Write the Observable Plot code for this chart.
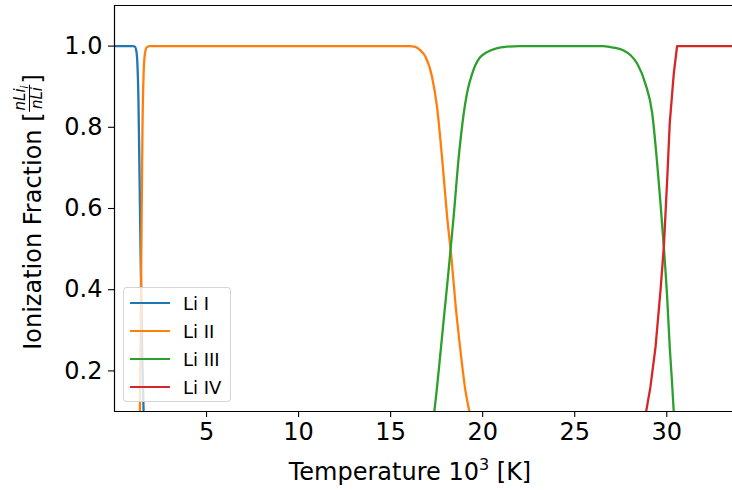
<!DOCTYPE html>
<html><head><meta charset="utf-8">
<script src="https://cdn.jsdelivr.net/npm/d3@7"></script>
<script src="https://cdn.jsdelivr.net/npm/@observablehq/plot@0.6"></script>
<style>
html,body{margin:0;padding:0;background:#fff;overflow:hidden}
#wrap{position:relative;width:732px;height:492px;font-family:"DejaVu Sans",sans-serif}
.legend{position:absolute;left:123px;top:287px;width:108px;height:115px;border:1px solid rgba(204,204,204,0.8);border-radius:4px;background:rgba(255,255,255,0.8);box-sizing:border-box}
.legend .row{position:absolute;left:6px;height:28px;display:flex;align-items:center;font-size:18px;color:#000;white-space:nowrap}
.legend .sw{width:40px;height:2.2px;margin-right:13px}
#ylab{position:absolute;left:33px;top:212px;transform:translate(-50%,-50%) rotate(-90deg);white-space:nowrap;font-size:24px;line-height:1;display:flex;align-items:center;color:#000}
#ylab .frac{display:inline-flex;flex-direction:column;align-items:center;font-size:15px;font-style:italic;line-height:1;margin:0 1px;position:relative;top:-4px}
#ylab .frac .num{border-bottom:1px solid #000;padding:0 1px 1px 1px}
#ylab .frac sub{font-size:10px;line-height:0;vertical-align:-3px}
</style></head>
<body><div id="wrap"></div>
<script>
// Series names and colours
const seriesNames = ["Li I", "Li II", "Li III", "Li IV"];
const seriesColors = ["#1f77b4", "#ff7f0e", "#2ca02c", "#d62728"];

// Temperature (10^3 K) and ionization fraction
const tempLiI = [0, 0.5, 1.0, 1.1, 1.18, 1.24, 1.30, 1.36, 1.42, 1.50, 1.58, 1.65, 2.0, 3.0];
const fracLiI = [1, 1, 1, 0.999, 0.99, 0.96, 0.87, 0.68, 0.48, 0.25, 0.10, 0.04, 0.0, 0.0];

const tempLiII = [0, 1.2, 1.3, 1.38, 1.45, 1.52, 1.58, 1.65, 1.75, 1.9, 16.0, 16.35, 16.6, 16.9, 17.25, 17.52, 17.79, 18.07, 18.30, 18.52, 18.79, 19.06, 19.28, 19.5, 20.0, 21.0, 34.0];
const fracLiII = [0, 0, 0.02, 0.10, 0.45, 0.80, 0.93, 0.98, 0.997, 1.0, 1.0, 0.998, 0.99, 0.973, 0.924, 0.85, 0.727, 0.579, 0.48, 0.366, 0.251, 0.152, 0.10, 0.06, 0.02, 0.0, 0.0];

const tempLiIII = [0, 16.5, 17.0, 17.37, 17.61, 17.88, 18.15, 18.42, 18.70, 18.97, 19.2, 19.4, 19.6, 19.87, 20.15, 20.42, 20.8, 21.14, 22.0, 26.5, 27.0, 27.66, 28.05, 28.39, 28.84, 29.21, 29.48, 29.66, 29.84, 30.02, 30.16, 30.29, 30.38, 30.5, 31.0, 34.0];
const fracLiIII = [0, 0, 0.03, 0.10, 0.20, 0.325, 0.448, 0.579, 0.727, 0.834, 0.895, 0.928, 0.953, 0.973, 0.983, 0.989, 0.995, 0.9975, 1.0, 1.0, 0.997, 0.989, 0.977, 0.957, 0.907, 0.834, 0.71, 0.612, 0.505, 0.382, 0.259, 0.169, 0.10, 0.05, 0.01, 0.0];

const tempLiIV = [0, 28.3, 28.6, 28.88, 29.11, 29.39, 29.66, 29.84, 30.02, 30.16, 30.38, 30.56, 34.0];
const fracLiIV = [0, 0, 0.04, 0.10, 0.16, 0.259, 0.399, 0.505, 0.669, 0.809, 0.932, 1.0, 1.0];

const xTicks = [5, 10, 15, 20, 25, 30];
const yTicks = [0.2, 0.4, 0.6, 0.8, 1.0];
const xDomain = [0, 33.57];
const yDomain = [0.1, 1.1];

const temps = [tempLiI, tempLiII, tempLiIII, tempLiIV];
const fracs = [fracLiI, fracLiII, fracLiIII, fracLiIV];
const curves = ["monotone-x", "monotone-x", "monotone-x", "linear"];
const tables = seriesNames.map((s, i) => temps[i].map((t, j) => ({series: s, T: t, f: fracs[i][j]})));

const chart = Plot.plot({
  width: 732, height: 492,
  marginLeft: 114, marginRight: 0, marginTop: 5, marginBottom: 81,
  style: {fontFamily: "DejaVu Sans", fontSize: "24px", color: "black", background: "white", overflow: "visible"},
  x: {domain: xDomain},
  y: {domain: yDomain},
  color: {domain: seriesNames, range: seriesColors},
  marks: [
    ...tables.map((d, i) => Plot.line(d, {x: "T", y: "f", stroke: "series", strokeWidth: 2.3, clip: true, curve: curves[i]})),
    Plot.ruleX([xDomain[0]], {stroke: "black", strokeWidth: 1.2}),
    Plot.ruleY(yDomain, {stroke: "black", strokeWidth: 1.2}),
    Plot.axisX({ticks: xTicks, tickSize: 6, tickPadding: 5, fontSize: 24, label: null, stroke: "black", strokeWidth: 1.1}),
    Plot.axisY({ticks: yTicks, tickSize: 6, tickPadding: 6, fontSize: 24, label: null, tickFormat: d3.format(".1f"), stroke: "black", strokeWidth: 1.1})
  ]
});

const wrap = document.getElementById("wrap");
wrap.appendChild(chart);
const svg = d3.select(chart);

// x axis label
const xl = svg.append("text").attr("x", 410).attr("y", 480)
  .attr("text-anchor", "middle").attr("font-size", 24).attr("fill", "black");
xl.append("tspan").text("Temperature 10");
xl.append("tspan").attr("font-size", 16).attr("dy", -10).text("3");
xl.append("tspan").attr("dy", 10).text(" [K]");

// y axis label (HTML, rotated) with a fraction
const yl = document.createElement("div");
yl.id = "ylab";
yl.innerHTML = 'Ionization Fraction [<span class="frac"><span class="num">nLi<sub>i</sub></span><span class="den">nLi</span></span>]';
wrap.appendChild(yl);

// legend
const leg = document.createElement("div");
leg.className = "legend";
seriesNames.forEach((s, i) => {
  const r = document.createElement("div");
  r.className = "row";
  r.style.top = (1 + i * 28) + "px";
  const sw = document.createElement("div");
  sw.className = "sw";
  sw.style.background = seriesColors[i];
  const lab = document.createElement("span");
  lab.textContent = s;
  r.appendChild(sw); r.appendChild(lab);
  leg.appendChild(r);
});
wrap.appendChild(leg);
</script>
</body></html>
